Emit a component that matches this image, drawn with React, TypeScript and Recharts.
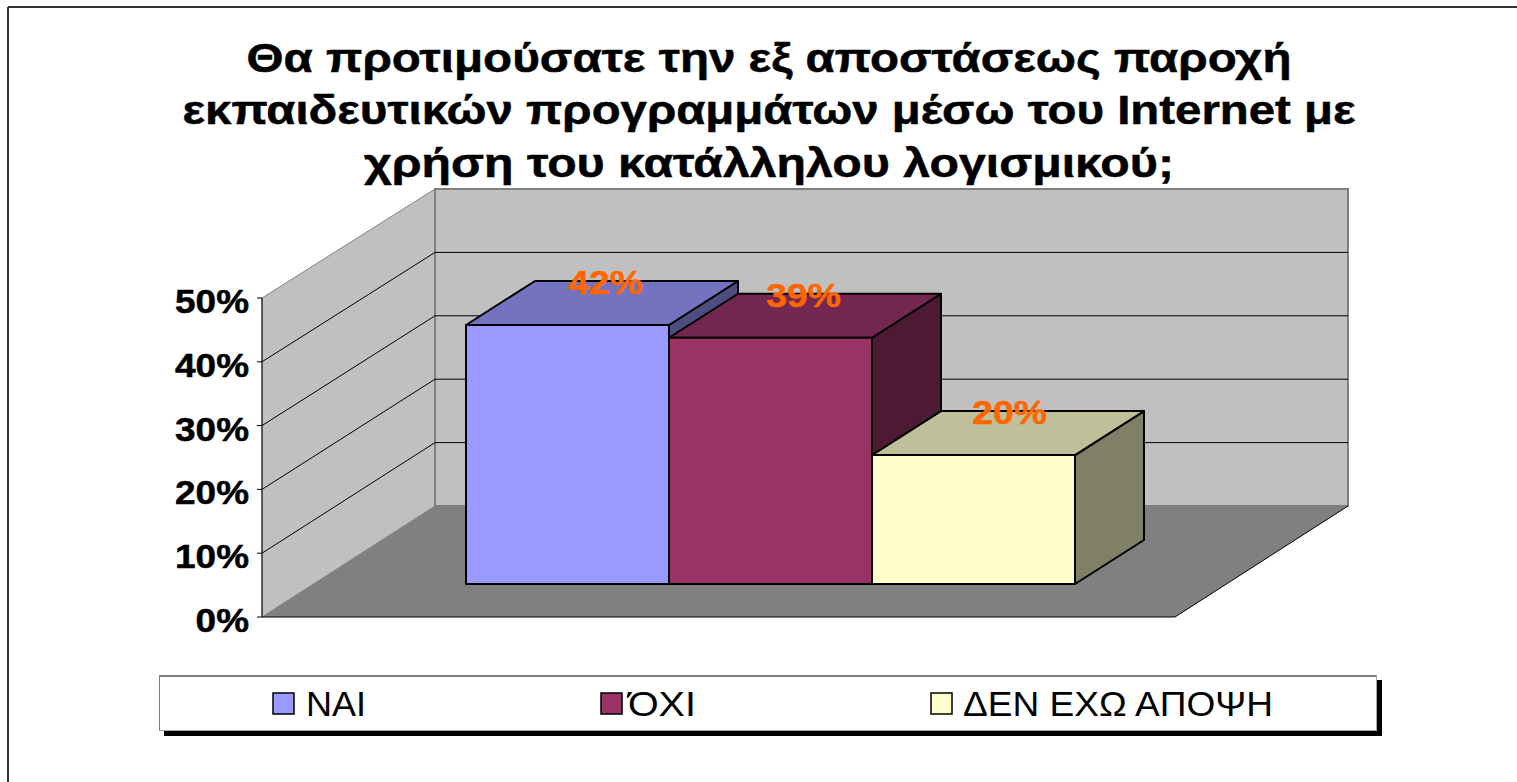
import { Bar, BarChart, LabelList, Legend, XAxis, YAxis } from "recharts";

const seriesNames = ["ΝΑΙ", "ΌΧΙ", "ΔΕΝ ΕΧΩ ΑΠΟΨΗ"];
const seriesValues = [40.6, 38.6, 20.2];
const seriesLabels = ["42%", "39%", "20%"];
const seriesFronts = ["#9999FF", "#993366", "#FFFFCC"];
const seriesTops = ["#7373BF", "#732650", "#BFBF99"];
const seriesSides = ["#4D4D80", "#4D1A33", "#808066"];
const yTicks = [0, 10, 20, 30, 40, 50];
const titleLines = [
  "Θα προτιμούσατε την εξ αποστάσεως παροχή",
  "εκπαιδευτικών προγραμμάτων μέσω του Internet με",
  "χρήση του κατάλληλου λογισμικού;",
];

const rows = [
  Object.fromEntries([["category", "Απαντήσεις"], ...seriesNames.map((n, i) => [n, seriesValues[i]])]),
];

const WIDTH = 1517;
const HEIGHT = 782;
const FONT = "'Liberation Sans', Arial, sans-serif";

// front plane of the plot
const LEFT = 262;
const RIGHT = 1175;
const TOP = 298;
const BOTTOM = 617;
// floor depth, back wall height, bar offset from the front edge, bar depth
const DEPTH = { x: 173, y: -111 };
const BACK_HEIGHT = 317;
const SHIFT = { x: 52, y: -33 };
const BAR_DEPTH = { x: 69, y: -44 };

const titleWidths = [1045, 1173, 810];
const titleBaselines = [72, 124, 177];
const labelNudge = [38, 33, 36];
const legendX = [272, 600, 930];
const legendTextX = [305, 627, 962];
const legendTextW = [60, 68, 310];

const pts = (list: number[][]) => list.map((p) => p.join(",")).join(" ");

function Backdrop() {
  const y = (v: number) => BOTTOM - (v / 50) * (BOTTOM - TOP);
  const backY = (v: number) => BOTTOM + DEPTH.y - (v / 50) * BACK_HEIGHT;
  const bx = LEFT + DEPTH.x;
  const rx = RIGHT + DEPTH.x;
  return (
    <g>
      <line x1={8} y1={7} x2={8} y2={HEIGHT} stroke="#333" strokeWidth={2} />
      <line x1={8} y1={7} x2={WIDTH} y2={7} stroke="#333" strokeWidth={2} />
      <polygon points={pts([[LEFT, y(50)], [bx, backY(50)], [bx, backY(0)], [LEFT, BOTTOM]])} fill="#C0C0C0" stroke="#808080" />
      <polygon
        points={pts([[bx, backY(50)], [rx, backY(50)], [rx, backY(0)], [bx, backY(0)]])}
        fill="#C0C0C0"
        stroke="#808080"
        strokeWidth={2}
      />
      <polygon points={pts([[LEFT, BOTTOM], [RIGHT, BOTTOM], [rx, backY(0)], [bx, backY(0)]])} fill="#808080" />
      <polyline points={pts([[LEFT, BOTTOM], [RIGHT, BOTTOM], [rx, backY(0)]])} fill="none" stroke="#000" />
      {yTicks
        .filter((t) => t > 0 && t < 50)
        .map((t) => (
          <polyline key={t} points={pts([[LEFT, y(t)], [bx, backY(t)], [rx, backY(t)]])} fill="none" stroke="#000" />
        ))}
      {titleLines.map((line, i) => (
        <text
          key={i}
          x={769}
          y={titleBaselines[i]}
          textAnchor="middle"
          textLength={titleWidths[i]}
          lengthAdjust="spacingAndGlyphs"
          fontFamily={FONT}
          fontWeight="bold"
          fontSize={41}
          fill="#000"
          stroke="#000"
          strokeWidth={0.5}
        >
          {line}
        </text>
      ))}
    </g>
  );
}

const Box3D = ({ x, y, width, height, index }: any) => {
  const fx = x + SHIFT.x;
  const fy = y + SHIFT.y;
  const r = fx + width;
  const b = fy + height;
  const d = BAR_DEPTH;
  const line = { stroke: "#000", strokeWidth: 2, strokeLinejoin: "round" as const };
  return (
    <g>
      <polygon points={pts([[r, fy], [r + d.x, fy + d.y], [r + d.x, b + d.y], [r, b]])} fill={seriesSides[index]} {...line} />
      <polygon points={pts([[fx, fy], [fx + d.x, fy + d.y], [r + d.x, fy + d.y], [r, fy]])} fill={seriesTops[index]} {...line} />
      <rect x={fx} y={fy} width={width} height={height} fill={seriesFronts[index]} {...line} />
    </g>
  );
};

const BarLabel = ({ x, y, width, index }: any) => (
  <text
    transform={`translate(${x + width / 2 + SHIFT.x + labelNudge[index]},${y + SHIFT.y - 31}) scale(1.13,1)`}
    textAnchor="middle"
    fontFamily={FONT}
    fontWeight="bold"
    fontSize={33}
    fill="#FF6600"
    stroke="#FF6600"
    strokeWidth={0.5}
  >
    {seriesLabels[index]}
  </text>
);

const YTick = ({ x, y, payload }: any) => (
  <text
    transform={`translate(${x},${y + 15}) scale(1.12,1)`}
    textAnchor="end"
    fontFamily={FONT}
    fontWeight="bold"
    fontSize={33}
    fill="#000"
    stroke="#000"
    strokeWidth={0.5}
  >
    {payload.value}%
  </text>
);

const LegendBox = () => (
  <div
    style={{
      position: "relative",
      width: 1216,
      height: 53,
      background: "#fff",
      borderTop: "2px solid #808080",
      borderLeft: "1px solid #808080",
      borderRight: "1px solid #aaa",
      borderBottom: "1px solid #aaa",
      boxShadow: "5px 5px 0 #000",
      fontFamily: FONT,
    }}
  >
    <svg width={1216} height={53} style={{ position: "absolute", left: 0, top: 0 }}>
      {seriesNames.map((name, i) => (
        <g key={name}>
          <rect x={legendX[i] - 159} y={16} width={21} height={21} fill={seriesFronts[i]} stroke="#000" strokeWidth={1.5} />
          <text
            x={legendTextX[i] - 159}
            y={39}
            textLength={legendTextW[i]}
            lengthAdjust="spacingAndGlyphs"
            fontSize={35}
            fontFamily={FONT}
            fill="#000"
          >
            {name}
          </text>
        </g>
      ))}
    </svg>
  </div>
);

export default function App() {
  return (
    <div style={{ position: "absolute", left: 0, top: 0, width: WIDTH, height: HEIGHT, background: "#fff", overflow: "hidden" }}>
      <BarChart
        width={WIDTH}
        height={HEIGHT}
        data={rows}
        margin={{ left: LEFT - 90, right: WIDTH - RIGHT, top: TOP, bottom: HEIGHT - BOTTOM }}
        barGap={0}
        barCategoryGap={152}
      >
        <Backdrop />
        <XAxis dataKey="category" hide />
        <YAxis
          width={90}
          domain={[0, 50]}
          ticks={yTicks}
          interval={0}
          tick={<YTick />}
          tickSize={5}
          tickMargin={8}
          axisLine={{ stroke: "#000" }}
          tickLine={{ stroke: "#000" }}
        />
        {seriesNames.map((name, i) => (
          <Bar
            key={name}
            dataKey={name}
            isAnimationActive={false}
            fill={seriesFronts[i]}
            shape={(props: any) => <Box3D {...props} index={i} />}
          >
            <LabelList content={(props: any) => <BarLabel {...props} index={i} />} />
          </Bar>
        ))}
        <Legend
          layout="vertical"
          align="center"
          verticalAlign="middle"
          content={<LegendBox />}
          wrapperStyle={{ left: 159, top: 675, width: 1218, height: 56, bottom: "auto" }}
        />
      </BarChart>
    </div>
  );
}
